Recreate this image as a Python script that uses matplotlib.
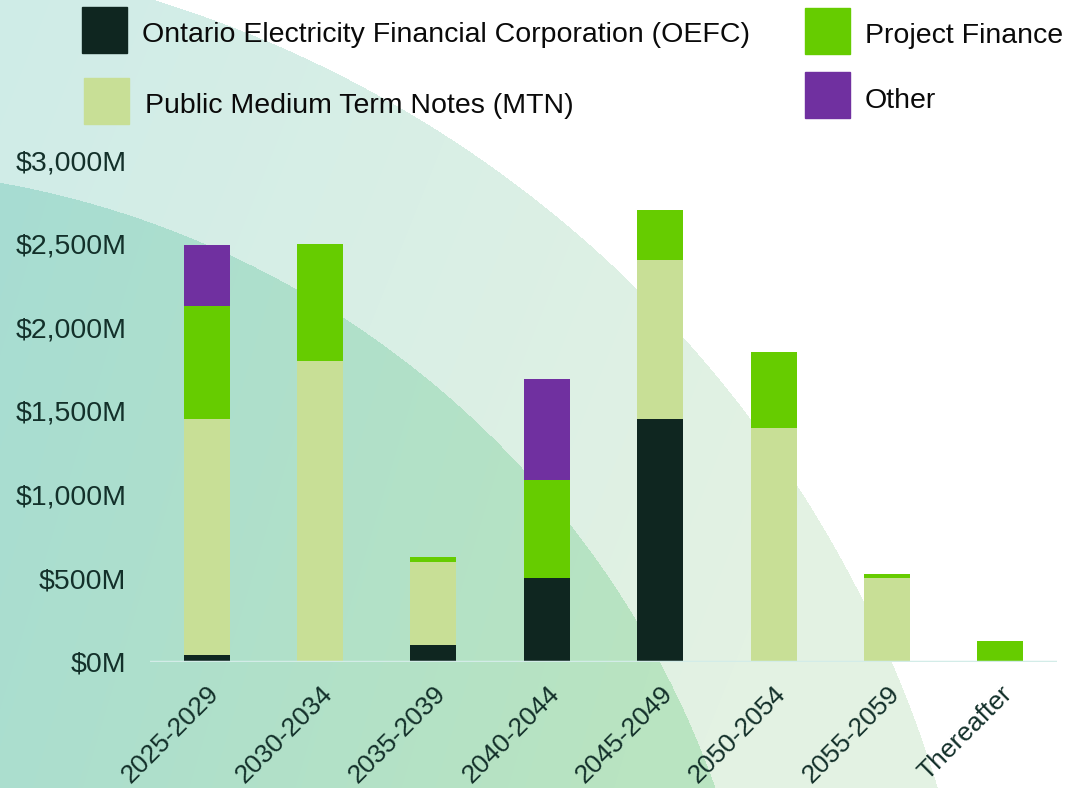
import numpy as np
import matplotlib
matplotlib.use('Agg')
from matplotlib import pyplot as plt
from matplotlib.patches import Rectangle
from matplotlib.colors import to_rgb

plt.rcParams['font.family'] = ['Liberation Sans', 'DejaVu Sans']

periods = ['2025-2029', '2030-2034', '2035-2039', '2040-2044',
           '2045-2049', '2050-2054', '2055-2059', 'Thereafter']
oefc = [40, 0, 100, 500, 1450, 0, 0, 0]
mtn = [1410, 1800, 500, 0, 950, 1400, 500, 0]
project_finance = [680, 700, 25, 590, 300, 450, 25, 125]
other = [360, 0, 0, 600, 0, 0, 0, 0]

series_names = ['Ontario Electricity Financial Corporation (OEFC)',
                'Public Medium Term Notes (MTN)',
                'Project Finance', 'Other']
colors = ['#0f2620', '#c8df96', '#66cc00', '#7030a0']
text_color = '#13302a'

W, H = 1066, 788


def px(x):
  return x / W


def py(y):
  return 1 - y / H


def lerp(c1, c2, t):
  c1 = np.array(to_rgb(c1))
  c2 = np.array(to_rgb(c2))
  return c1[None, None, :] * (1 - t[..., None]) + c2[None, None, :] * t[..., None]


def background():
  # two big soft circles coming from the lower left
  yy, xx = np.mgrid[0:H, 0:W].astype(float)
  d_outer = np.hypot(xx + 195, yy - 1130)
  d_inner = np.hypot(xx + 163, yy - 1100)
  img = np.ones((H, W, 3))
  s_band = np.clip((xx + 0.4 * yy) / 1000, 0, 1)
  band = lerp('#cfece8', '#e3f2e3', s_band)
  s_in = np.clip((xx + 0.3 * yy) / 850, 0, 1)
  inner = lerp('#a6dcd4', '#b9e4c1', s_in)
  m_band = d_outer < 1183
  m_inner = d_inner < 932
  img[m_band] = band[m_band]
  img[m_inner] = inner[m_inner]
  return img


def main():
  fig = plt.figure(figsize=(W / 100, H / 100), dpi=100)

  bg = fig.add_axes([0, 0, 1, 1], zorder=-10)
  bg.imshow(background(), aspect='auto', extent=(0, W, H, 0))
  bg.axis('off')

  ax = fig.add_axes([px(150), py(662), px(1057) - px(150), py(160) - py(662)])
  ax.patch.set_alpha(0)

  x = np.arange(len(periods))
  bottom = np.zeros(len(periods))
  for vals, color in zip([oefc, mtn, project_finance, other], colors):
    vals = np.array(vals, dtype=float)
    ax.bar(x, vals, 0.405, bottom=bottom, color=color, zorder=3)
    bottom += vals

  ax.axhline(0, color='#d3ece8', lw=2.5, zorder=4)
  ax.set_xlim(-0.5, 7.5)
  ax.set_ylim(0, 3000)
  ax.set_yticks([0, 500, 1000, 1500, 2000, 2500, 3000])
  ax.set_yticklabels(['${:,}M'.format(v) for v in [0, 500, 1000, 1500, 2000, 2500, 3000]],
                     fontsize=20.5, color=text_color)
  ax.set_xticks(x)
  ax.set_xticklabels(periods, rotation=45, ha='right', rotation_mode='anchor',
                     fontsize=19, color=text_color)
  ax.tick_params(axis='y', length=0, pad=17)
  ax.tick_params(axis='x', length=0, pad=14)
  for s in ax.spines.values():
    s.set_visible(False)

  # legend drawn by hand
  legend_items = [
    (82, 7, 142, 35, 0),
    (84, 78, 145, 106, 1),
    (805, 8, 865, 36, 2),
    (805, 72, 865, 101, 3),
  ]
  for sx, sy, tx, ty, i in legend_items:
    fig.patches.append(Rectangle((px(sx), py(sy + 46)), px(45), 46 / H,
                                 transform=fig.transFigure, color=colors[i]))
    fig.text(px(tx), py(ty), series_names[i], fontsize=20.5, color='#0a0a0a',
             ha='left', va='center')

  fig.savefig('out.png', dpi=100)


if __name__ == '__main__':
  main()
